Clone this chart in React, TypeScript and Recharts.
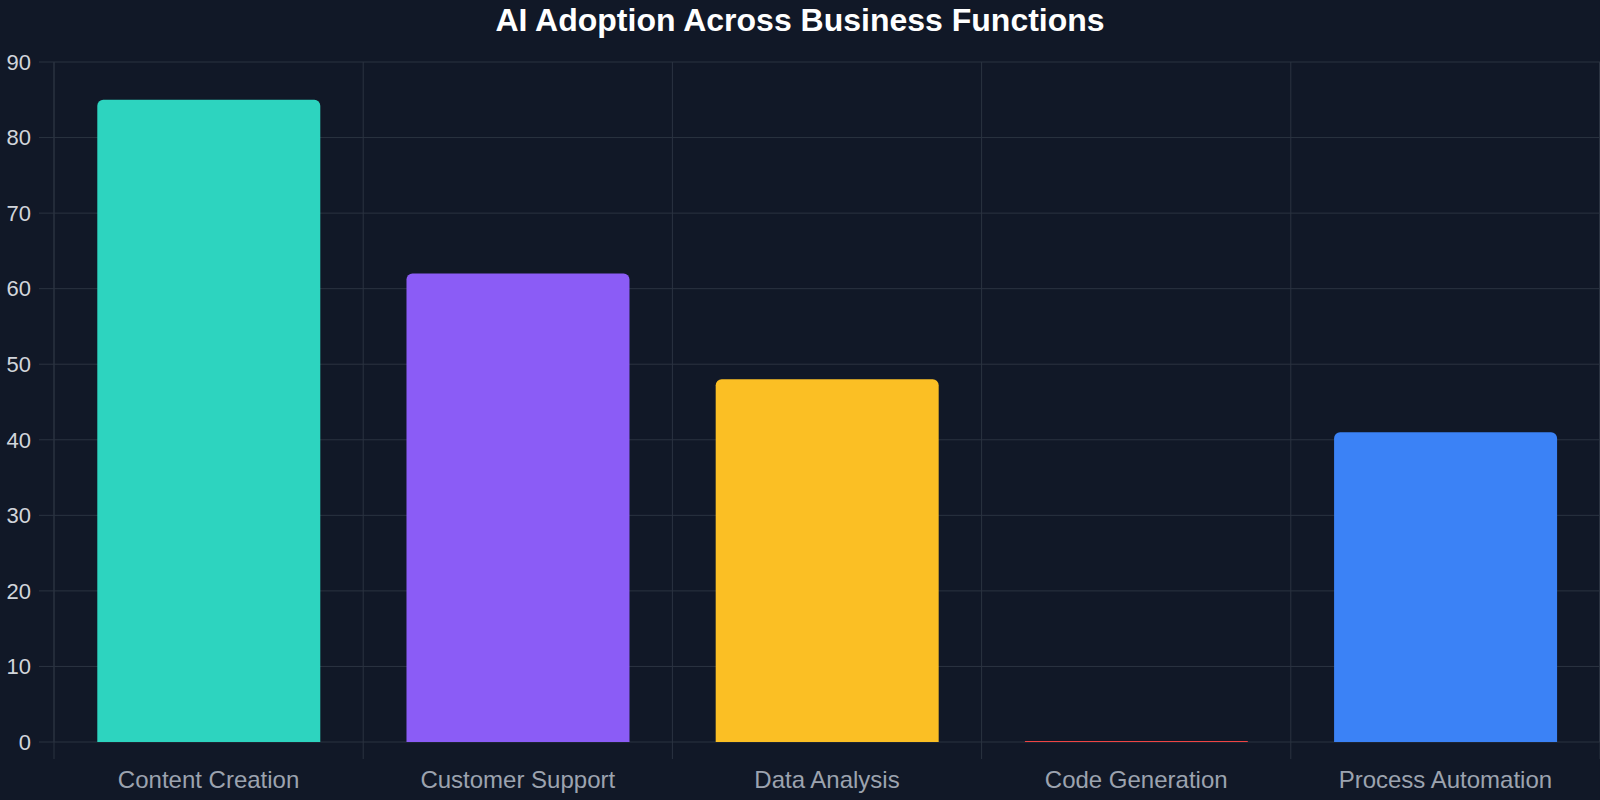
import React from 'react';
import { BarChart, Bar, XAxis, YAxis, CartesianGrid, Cell } from 'recharts';

const categories = ['Content Creation', 'Customer Support', 'Data Analysis', 'Code Generation', 'Process Automation'];
const adoption = [85, 62, 48, 0, 41];
const barColors = ['#2dd4bf', '#8b5cf6', '#fbbf24', '#ef4444', '#3b82f6'];
const yTicks = [0, 10, 20, 30, 40, 50, 60, 70, 80, 90];

const data = categories.map((name, i) => ({ name, value: adoption[i] }));

const W = 1600;
const H = 800;
const LEFT = 54;
const TOP = 62;
const X_AXIS_H = 58;
const BAND = (W - LEFT) / categories.length;
const GRID = '#2b3341';
const FONT = '"Liberation Sans", Arial, sans-serif';

// category labels sit in the middle of each band, tick marks on the band edges
const XTick = (props: any) => {
  const { x, y, payload, index } = props;
  const left = x - BAND / 2;
  return (
    <g>
      <line x1={left} x2={left} y1={y} y2={y + 17} stroke={GRID} strokeWidth={1} />
      {index === categories.length - 1 && (
        <line x1={x + BAND / 2} x2={x + BAND / 2} y1={y} y2={y + 17} stroke={GRID} strokeWidth={1} />
      )}
      <text x={x} y={y + 46} textAnchor="middle" fill="#9ca3af" fontSize={24} fontFamily={FONT}>
        {payload.value}
      </text>
    </g>
  );
};

const App: React.FC = () => {
  return (
    <div style={{ position: 'absolute', left: 0, top: 0, width: W, height: H, background: '#111827', fontFamily: FONT }}>
      <div
        style={{
          position: 'absolute',
          top: 0,
          left: 0,
          width: W,
          textAlign: 'center',
          color: '#ffffff',
          fontSize: 32,
          fontWeight: 700,
          lineHeight: '40px',
        }}
      >
        AI Adoption Across Business Functions
      </div>
      <BarChart width={W} height={H} data={data} margin={{ top: TOP, right: 0, bottom: 0, left: 0 }} barCategoryGap="14%">
        <CartesianGrid
          stroke={GRID}
          verticalCoordinatesGenerator={({ offset }: any) =>
            categories.map((_, i) => offset.left + i * BAND).concat([offset.left + categories.length * BAND - 0.5])
          }
        />
        <XAxis
          dataKey="name"
          height={X_AXIS_H}
          axisLine={false}
          tickLine={false}
          tickSize={0}
          tickMargin={0}
          interval={0}
          tick={<XTick />}
        />
        <YAxis
          width={LEFT}
          domain={[0, 90]}
          ticks={yTicks}
          interval={0}
          axisLine={{ stroke: GRID }}
          tickLine={{ stroke: GRID }}
          tickSize={15}
          tickMargin={8}
          tick={{ fill: '#d1d5db', fontSize: 22, fontFamily: FONT }}
        />
        <Bar dataKey="value" radius={[6, 6, 0, 0]} minPointSize={1} isAnimationActive={false}>
          {data.map((d, i) => (
            <Cell key={d.name} fill={barColors[i]} />
          ))}
        </Bar>
      </BarChart>
    </div>
  );
};

export default App;
